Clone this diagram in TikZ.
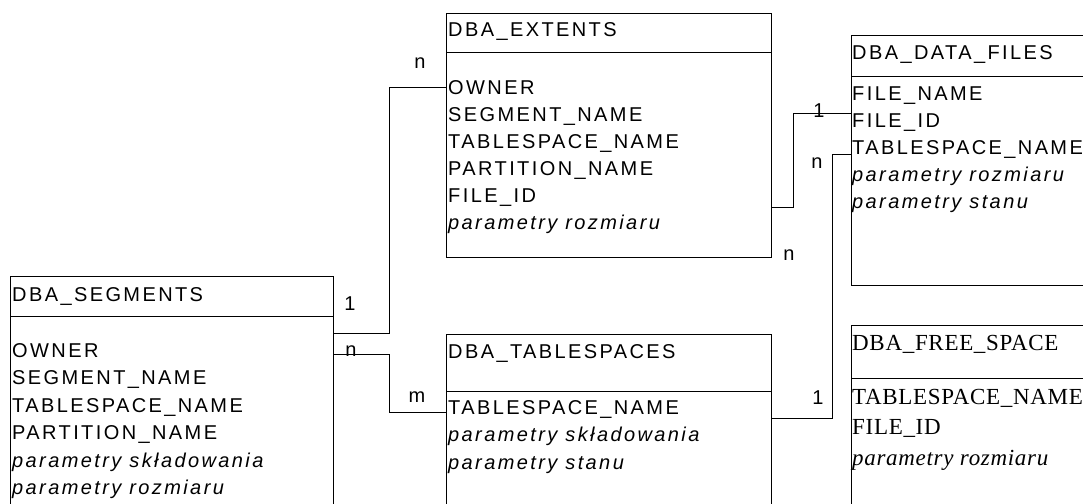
\documentclass[tikz,border=0pt]{standalone}
\usepackage{fontspec}
\newfontfamily\erfont[LetterSpace=12]{Liberation Sans}
\newfontfamily\erserif[LetterSpace=3]{Liberation Serif}
\usetikzlibrary{calc}

\begin{document}
\begin{tikzpicture}[x=1pt, y=-1pt,
    tbl/.style={draw, line width=0.9pt, anchor=north west, inner sep=0pt, outer sep=0pt},
    fld/.style={anchor=west, inner sep=0pt, text height=14.3pt, text depth=0pt,
      font=\erfont\fontsize{20}{20}\selectfont},
    sfld/.style={anchor=west, inner sep=0pt, text height=15.2pt, text depth=0pt,
      font=\erserif\fontsize{23}{23}\selectfont},
    card/.style={anchor=base, inner sep=0pt, font=\erfont\fontsize{20}{20}\selectfont},
    link/.style={line width=0.9pt}]
  \clip (0,0) rectangle (1083,503);
  % Tables: frame, header rule, title and columns.
  \node[tbl, minimum width=323pt, minimum height=250pt] (segments) at (10,276) {};
  \draw[line width=0.9pt] (segments.north west) ++(0,40) -- ++(323,0);
  \node[fld] (seg-title) at (12,294) {DBA\_SEGMENTS};
  \node[fld] (seg-owner) at (12,350) {OWNER};
  \node[fld] (seg-name)  at (12,377.5) {SEGMENT\_NAME};
  \node[fld] (seg-tsp)   at (12,405) {TABLESPACE\_NAME};
  \node[fld] (seg-part)  at (12,432.5) {PARTITION\_NAME};
  \node[fld] (seg-stor)  at (12,460) {\itshape parametry składowania};
  \node[fld] (seg-size)  at (12,487.5) {\itshape parametry rozmiaru};

  \node[tbl, minimum width=325pt, minimum height=244pt] (extents) at (446,13) {};
  \draw[line width=0.9pt] (extents.north west) ++(0,39) -- ++(325,0);
  \node[fld] (ext-title) at (448,29) {DBA\_EXTENTS};
  \node[fld] (ext-owner) at (448,87) {OWNER};
  \node[fld] (ext-name)  at (448,114) {SEGMENT\_NAME};
  \node[fld] (ext-tsp)   at (448,141) {TABLESPACE\_NAME};
  \node[fld] (ext-part)  at (448,168) {PARTITION\_NAME};
  \node[fld] (ext-file)  at (448,195) {FILE\_ID};
  \node[fld] (ext-size)  at (448,222) {\itshape parametry rozmiaru};

  \node[tbl, minimum width=325pt, minimum height=200pt] (tablespaces) at (446,334) {};
  \draw[line width=0.9pt] (tablespaces.north west) ++(0,57) -- ++(325,0);
  \node[fld] (tsp-title) at (448,351) {DBA\_TABLESPACES};
  \node[fld] (tsp-name)  at (448,407) {TABLESPACE\_NAME};
  \node[fld] (tsp-stor)  at (448,434.5) {\itshape parametry składowania};
  \node[fld] (tsp-state) at (448,462) {\itshape parametry stanu};

  \node[tbl, minimum width=260pt, minimum height=250pt] (datafiles) at (851,35) {};
  \draw[line width=0.9pt] (datafiles.north west) ++(0,41) -- ++(260,0);
  \node[fld] (dat-title) at (852,52) {DBA\_DATA\_FILES};
  \node[fld] (dat-name)  at (852,93) {FILE\_NAME};
  \node[fld] (dat-file)  at (852,120) {FILE\_ID};
  \node[fld] (dat-tsp)   at (852,147) {TABLESPACE\_NAME};
  \node[fld] (dat-size)  at (852,174) {\itshape parametry rozmiaru};
  \node[fld] (dat-state) at (852,201) {\itshape parametry stanu};

  \node[tbl, minimum width=260pt, minimum height=200pt] (freespace) at (851,325) {};
  \draw[line width=0.9pt] (freespace.north west) ++(0,53) -- ++(260,0);
  \node[sfld] (fre-title) at (852,343) {DBA\_FREE\_SPACE};
  \node[sfld] (fre-tsp)   at (852,397) {TABLESPACE\_NAME};
  \node[sfld] (fre-file)  at (852,427) {FILE\_ID};
  \node[sfld] (fre-size)  at (852,458) {\itshape parametry rozmiaru};

  % Relationship lines, attached at the table edges.
  \coordinate (seg-a) at (333,333);
  \coordinate (seg-b) at (333,354);
  \coordinate (ext-a) at (446,87);
  \coordinate (ext-b) at (771,207);
  \coordinate (tsp-a) at (446,412);
  \coordinate (tsp-b) at (771,418);
  \coordinate (dat-a) at (851,113);
  \coordinate (dat-b) at (851,154);
  \draw[link] (seg-a) -| ($(seg-a)!.5!(ext-a)$) |- (ext-a);
  \draw[link] (seg-b) -| ($(seg-b)!.5!(tsp-a)$) |- (tsp-a);
  \draw[link] (ext-b) -- ++(22,0) |- (dat-a);
  \draw[link] (tsp-b) -- ++(61,0) |- (dat-b);

  % Cardinalities.
  \node[card] (card-seg-a) at (350,310) {1};
  \node[card] (card-ext-a) at (420,68) {n};
  \node[card] (card-seg-b) at (351,356) {n};
  \node[card] (card-tsp-a) at (417,402) {m};
  \node[card] (card-dat-a) at (819,117) {1};
  \node[card] (card-ext-b) at (789,260) {n};
  \node[card] (card-tsp-b) at (818,404) {1};
  \node[card] (card-dat-b) at (817,168) {n};
\end{tikzpicture}
\end{document}
